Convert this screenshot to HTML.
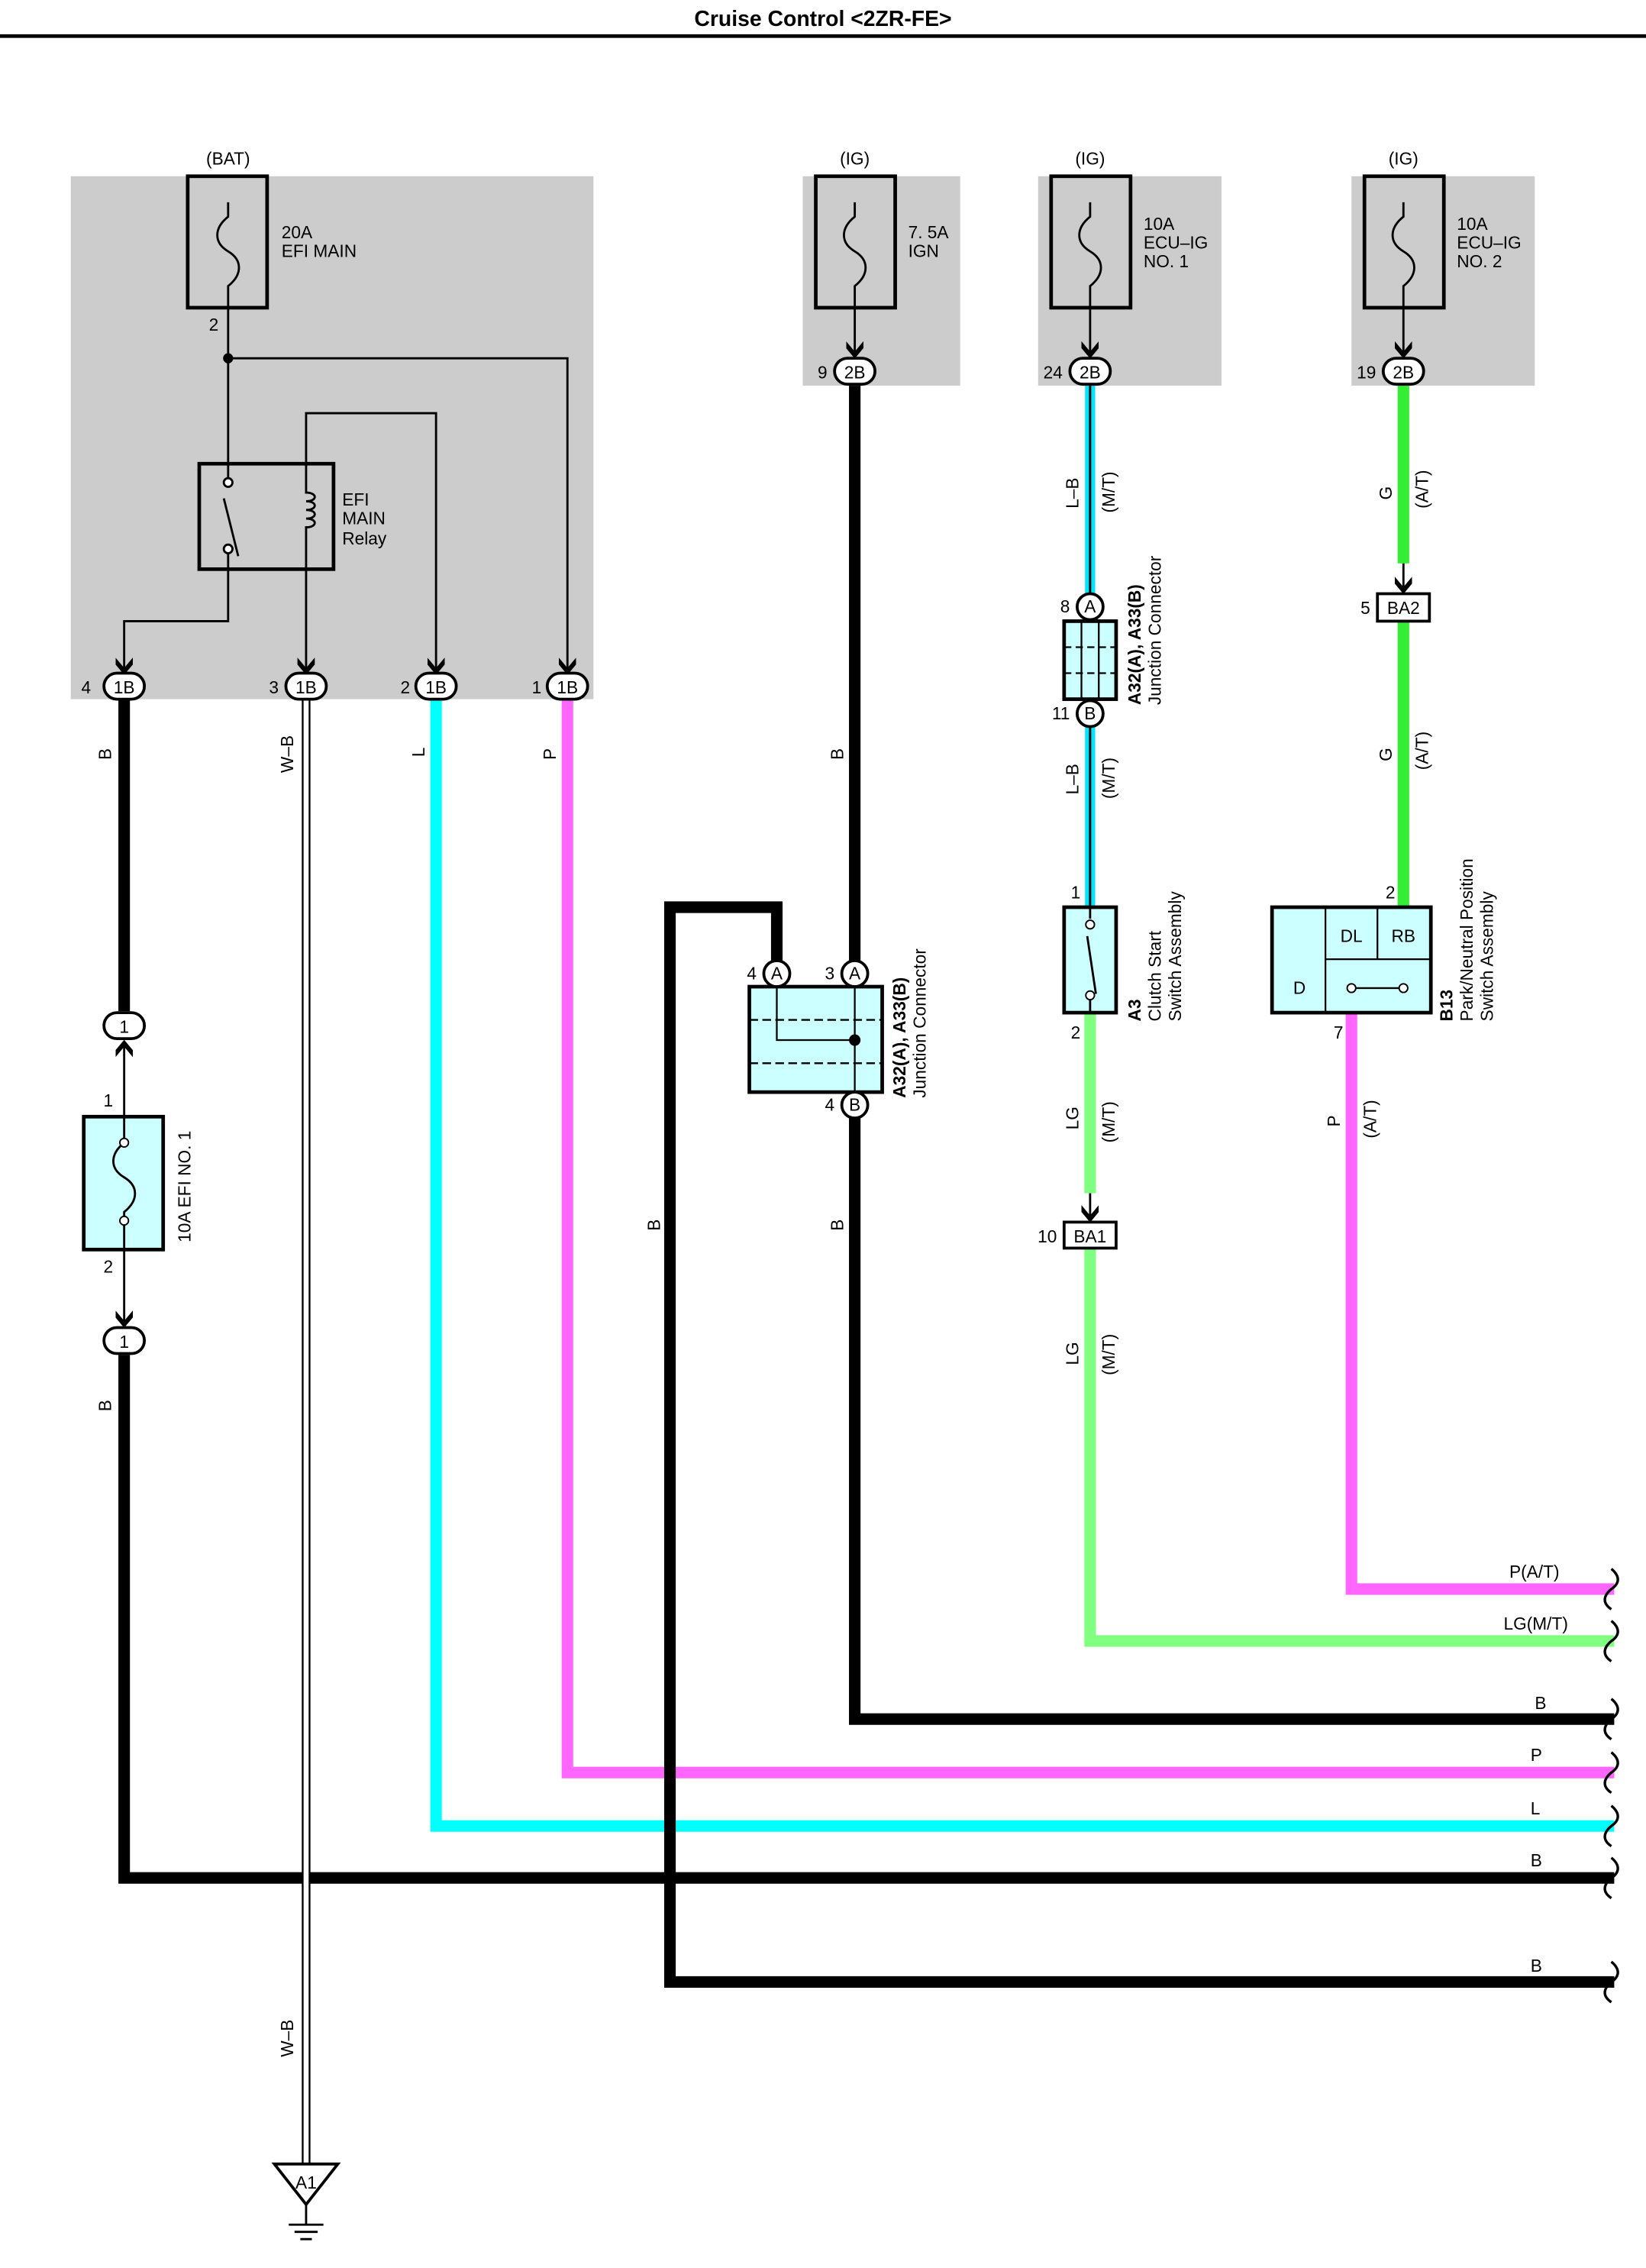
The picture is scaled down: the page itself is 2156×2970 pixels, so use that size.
<!DOCTYPE html>
<html><head><meta charset="utf-8"><style>
html,body{margin:0;padding:0;background:#fff}
svg{display:block}
text{font-family:"Liberation Sans",sans-serif;font-size:12px;fill:#000}
</style></head><body>
<svg width="2156" height="2970" viewBox="0 0 1140 1570" preserveAspectRatio="none" xmlns="http://www.w3.org/2000/svg">
<defs>
<marker id="ar" viewBox="0 0 10 10" refX="9" refY="5" markerUnits="userSpaceOnUse" markerWidth="12" markerHeight="12" orient="auto"><path d="M0,0 L6,5 L0,10 L4,10 L10,5 L4,0Z" fill="#000"/></marker>
</defs>
<text x="570" y="18" text-anchor="middle" style="font-weight:bold;font-size:15px">Cruise Control &lt;2ZR-FE&gt;</text>
<line x1="0" y1="25" x2="1140" y2="25" stroke="#000" stroke-width="2.5"/>

<rect x="49" y="122" width="362" height="362" fill="#cccccc"/>
<rect x="556" y="122" width="109" height="145" fill="#cccccc"/>
<rect x="719" y="122" width="127" height="145" fill="#cccccc"/>
<rect x="936" y="122" width="127" height="145" fill="#cccccc"/>

<text x="158" y="114" text-anchor="middle">(BAT)</text>
<text x="592" y="114" text-anchor="middle">(IG)</text>
<text x="755" y="114" text-anchor="middle">(IG)</text>
<text x="972" y="114" text-anchor="middle">(IG)</text>

<g fill="none" stroke="#000" stroke-width="2.5">
<rect x="130" y="122" width="55" height="91"/>
<rect x="565" y="122" width="55" height="91"/>
<rect x="728" y="122" width="55" height="91"/>
<rect x="945" y="122" width="55" height="91"/>
</g>
<g fill="none" stroke="#000" stroke-width="1.5">
<path d="M158,140 v10 c-10,8 -10,18 0,24 c10,6 10,16 0,24 v15"/>
<path d="M592,140 v10 c-10,8 -10,18 0,24 c10,6 10,16 0,24 v15"/>
<path d="M755,140 v10 c-10,8 -10,18 0,24 c10,6 10,16 0,24 v15"/>
<path d="M972,140 v10 c-10,8 -10,18 0,24 c10,6 10,16 0,24 v15"/>
</g>
<text x="195" y="165">20A</text><text x="195" y="178">EFI MAIN</text>
<text x="629" y="165">7. 5A</text><text x="629" y="178">IGN</text>
<text x="792" y="159">10A</text><text x="792" y="172">ECU–IG</text><text x="792" y="185">NO. 1</text>
<text x="1009" y="159">10A</text><text x="1009" y="172">ECU–IG</text><text x="1009" y="185">NO. 2</text>
<text x="148" y="229" text-anchor="middle">2</text>

<g fill="none" stroke="#000" stroke-width="1.5">
<path d="M158,213 V321"/>
<path d="M158,248 H393 V466" marker-end="url(#ar)"/>
<path d="M158,394 V430 H86 V466" marker-end="url(#ar)"/>
<path d="M212,321 V286 H302 V466" marker-end="url(#ar)"/>
<path d="M212,394 V466" marker-end="url(#ar)"/>
<path d="M592,213 V247" marker-end="url(#ar)"/>
<path d="M755,213 V247" marker-end="url(#ar)"/>
<path d="M972,213 V247" marker-end="url(#ar)"/>
</g>
<circle cx="158" cy="248" r="3.5"/>
<rect x="138" y="321" width="93" height="73" fill="none" stroke="#000" stroke-width="2.5"/>
<g fill="none" stroke="#000" stroke-width="1.5">
<path d="M158,321 v10 M158,394 v-12 M155,345 l10,40"/>
<circle cx="158" cy="334" r="3" fill="#fff"/><circle cx="158" cy="380" r="3" fill="#fff"/>
<path d="M212,321 v20 c8,0 8,6 0,6 c8,0 8,6 0,6 c8,0 8,6 0,6 c8,0 8,6 0,6 v29"/>
</g>
<text x="237" y="350">EFI</text><text x="237" y="363">MAIN</text><text x="237" y="377">Relay</text>

<g fill="none" stroke-linejoin="miter">
<path d="M86,484 V700" stroke="#000" stroke-width="8"/>
<path d="M86,938 V1300 H1118" stroke="#000" stroke-width="8"/>
<path d="M212,484 V1500" stroke="#000" stroke-width="6"/>
<path d="M212,484 V1500" stroke="#fff" stroke-width="3.5"/>
<path d="M302,484 V1264 H1118" stroke="#00ffff" stroke-width="8"/>
<path d="M393,484 V1227 H1118" stroke="#ff66ff" stroke-width="8"/>
<path d="M592,267 V666" stroke="#000" stroke-width="8"/>
<path d="M592,774 V1190 H1118" stroke="#000" stroke-width="8"/>
<path d="M538,666 V628 H464 V1372 H1118" stroke="#000" stroke-width="8"/>
<path d="M755,267 V412 M755,503 V628" stroke="#00e5ff" stroke-width="7"/>
<path d="M755,267 V412 M755,503 V628" stroke="#000" stroke-width="1.5"/>
<path d="M755,701 V826 M755,864 V1136 H1118" stroke="#80ff80" stroke-width="8"/>
<path d="M972,267 V390 M972,430 V628" stroke="#33ee33" stroke-width="8"/>
<path d="M936,701 V1100 H1118" stroke="#ff66ff" stroke-width="8"/>
</g>
<g fill="none" stroke="#000" stroke-width="1.5">
<path d="M755,826 V845" marker-end="url(#ar)"/>
<path d="M972,390 V410" marker-end="url(#ar)"/>
<path d="M86,773 V721" marker-end="url(#ar)"/>
<path d="M86,865 V918" marker-end="url(#ar)"/>
</g>
<g fill="none" stroke="#000" stroke-width="1.8">
<path d="M1116,1086 c6,5 6,10 0,14 c-6,5 -6,10 0,14"/>
<path d="M1116,1122 c6,5 6,10 0,14 c-6,5 -6,10 0,14"/>
<path d="M1116,1176 c6,5 6,10 0,14 c-6,5 -6,10 0,14"/>
<path d="M1116,1213 c6,5 6,10 0,14 c-6,5 -6,10 0,14"/>
<path d="M1116,1250 c6,5 6,10 0,14 c-6,5 -6,10 0,14"/>
<path d="M1116,1286 c6,5 6,10 0,14 c-6,5 -6,10 0,14"/>
<path d="M1116,1358 c6,5 6,10 0,14 c-6,5 -6,10 0,14"/>
</g>
<text x="1080" y="1092" text-anchor="end">P(A/T)</text>
<text x="1086" y="1128" text-anchor="end">LG(M/T)</text>
<text x="1063" y="1183">B</text><text x="1060" y="1219">P</text><text x="1060" y="1256">L</text>
<text x="1060" y="1292">B</text><text x="1060" y="1365">B</text>

<g stroke="#000" stroke-width="2" fill="#fff">
<rect x="72" y="466" width="28" height="18" rx="9"/>
<rect x="198" y="466" width="28" height="18" rx="9"/>
<rect x="288" y="466" width="28" height="18" rx="9"/>
<rect x="379" y="466" width="28" height="18" rx="9"/>
<rect x="578" y="248" width="28" height="18" rx="9"/>
<rect x="741" y="248" width="28" height="18" rx="9"/>
<rect x="958" y="248" width="28" height="18" rx="9"/>
<rect x="72" y="701" width="28" height="18" rx="9"/>
<rect x="72" y="919" width="28" height="18" rx="9"/>
</g>
<g text-anchor="middle">
<text x="86" y="480">1B</text><text x="212" y="480">1B</text><text x="302" y="480">1B</text><text x="393" y="480">1B</text>
<text x="592" y="262">2B</text><text x="755" y="262">2B</text><text x="972" y="262">2B</text>
<text x="86" y="715">1</text><text x="86" y="933">1</text>
</g>
<text x="63" y="480" text-anchor="end">4</text><text x="193" y="480" text-anchor="end">3</text>
<text x="284" y="480" text-anchor="end">2</text><text x="375" y="480" text-anchor="end">1</text>
<text x="573" y="262" text-anchor="end">9</text><text x="736" y="262" text-anchor="end">24</text><text x="953" y="262" text-anchor="end">19</text>

<rect x="58" y="773" width="55" height="92" fill="#ccffff" stroke="#000" stroke-width="2.5"/>
<path d="M86,773 v18 c-10,8 -10,18 0,24 c10,6 10,16 0,24 v26" fill="none" stroke="#000" stroke-width="1.5"/>
<circle cx="86" cy="791" r="3" fill="#fff" stroke="#000"/><circle cx="86" cy="845" r="3" fill="#fff" stroke="#000"/>
<text x="75" y="766" text-anchor="middle">1</text><text x="75" y="881" text-anchor="middle">2</text>
<text transform="translate(132,860) rotate(-90)">10A EFI NO. 1</text>

<rect x="519" y="683" width="92" height="73" fill="#ccffff" stroke="#000" stroke-width="2.5"/>
<g stroke="#000" stroke-width="1.2" fill="none">
<path d="M519,706 H611 M519,736 H611" stroke-dasharray="6,3"/>
<path d="M538,683 V720 H592 V683"/><path d="M592,720 V756"/>
</g>
<circle cx="592" cy="720" r="4"/>
<g stroke="#000" stroke-width="2" fill="#fff">
<circle cx="538" cy="674" r="9"/><circle cx="592" cy="674" r="9"/><circle cx="592" cy="765" r="9"/>
<circle cx="755" cy="420" r="9"/><circle cx="755" cy="494" r="9"/>
</g>
<g text-anchor="middle"><text x="538" y="678">A</text><text x="592" y="678">A</text><text x="592" y="769">B</text>
<text x="755" y="424">A</text><text x="755" y="498">B</text></g>
<text x="524" y="678" text-anchor="end">4</text><text x="578" y="678" text-anchor="end">3</text><text x="578" y="769" text-anchor="end">4</text>
<text x="741" y="424" text-anchor="end">8</text><text x="741" y="498" text-anchor="end">11</text>
<text transform="translate(627,760) rotate(-90)" style="font-weight:bold">A32(A), A33(B)</text>
<text transform="translate(641,760) rotate(-90)">Junction Connector</text>

<rect x="737" y="430" width="36" height="54" fill="#ccffff" stroke="#000" stroke-width="2.5"/>
<path d="M737,448 H773 M737,466 H773" stroke="#000" stroke-width="1.2" stroke-dasharray="5,3"/>
<path d="M749,430 V484 M761,430 V484" stroke="#000" stroke-width="1.2"/>
<text transform="translate(790,488) rotate(-90)" style="font-weight:bold">A32(A), A33(B)</text>
<text transform="translate(804,488) rotate(-90)">Junction Connector</text>

<rect x="737" y="628" width="36" height="73" fill="#ccffff" stroke="#000" stroke-width="2.5"/>
<path d="M755,628 v8 M755,701 v-10 M753,648 l6,40" stroke="#000" stroke-width="1.5" fill="none"/>
<circle cx="755" cy="640" r="3" fill="#fff" stroke="#000"/><circle cx="755" cy="689" r="3" fill="#fff" stroke="#000"/>
<text x="745" y="622" text-anchor="middle">1</text><text x="745" y="719" text-anchor="middle">2</text>
<text transform="translate(790,707) rotate(-90)" style="font-weight:bold">A3</text>
<text transform="translate(804,707) rotate(-90)">Clutch Start</text>
<text transform="translate(818,707) rotate(-90)">Switch Assembly</text>

<rect x="737" y="846" width="36" height="18" fill="#fff" stroke="#000" stroke-width="2"/>
<text x="755" y="860" text-anchor="middle">BA1</text><text x="732" y="860" text-anchor="end">10</text>
<rect x="954" y="411" width="36" height="19" fill="#fff" stroke="#000" stroke-width="2"/>
<text x="972" y="425" text-anchor="middle">BA2</text><text x="949" y="425" text-anchor="end">5</text>

<rect x="881" y="628" width="110" height="73" fill="#ccffff" stroke="#000" stroke-width="2.5"/>
<path d="M918,628 V701 M918,664 H991 M954,628 V664" stroke="#000" stroke-width="1.2" fill="none"/>
<text x="936" y="652" text-anchor="middle">DL</text><text x="972" y="652" text-anchor="middle">RB</text>
<text x="900" y="688" text-anchor="middle">D</text>
<path d="M936,684 H972" stroke="#000" stroke-width="1.2"/>
<circle cx="936" cy="684" r="3" fill="#fff" stroke="#000"/><circle cx="972" cy="684" r="3" fill="#fff" stroke="#000"/>
<text x="963" y="622" text-anchor="middle">2</text><text x="927" y="719" text-anchor="middle">7</text>
<text transform="translate(1006,707) rotate(-90)" style="font-weight:bold">B13</text>
<text transform="translate(1020,707) rotate(-90)">Park/Neutral Position</text>
<text transform="translate(1034,707) rotate(-90)">Switch Assembly</text>

<path d="M190,1498 H234 L212,1526 Z" fill="#fff" stroke="#000" stroke-width="2"/>
<text x="212" y="1515" text-anchor="middle">A1</text>
<path d="M212,1526 V1540 M200,1540 H224 M204,1545 H220 M208,1550 H216" stroke="#000" stroke-width="1.5"/>

<g>
<text transform="translate(77,526) rotate(-90)">B</text>
<text transform="translate(203,535) rotate(-90)">W–B</text>
<text transform="translate(294,524) rotate(-90)">L</text>
<text transform="translate(385,526) rotate(-90)">P</text>
<text transform="translate(584,526) rotate(-90)">B</text>
<text transform="translate(584,852) rotate(-90)">B</text>
<text transform="translate(457,852) rotate(-90)">B</text>
<text transform="translate(77,977) rotate(-90)">B</text>
<text transform="translate(203,1424) rotate(-90)">W–B</text>
<text transform="translate(747,352) rotate(-90)">L–B</text>
<text transform="translate(772,355) rotate(-90)">(M/T)</text>
<text transform="translate(747,550) rotate(-90)">L–B</text>
<text transform="translate(772,553) rotate(-90)">(M/T)</text>
<text transform="translate(747,782) rotate(-90)">LG</text>
<text transform="translate(772,791) rotate(-90)">(M/T)</text>
<text transform="translate(747,945) rotate(-90)">LG</text>
<text transform="translate(772,952) rotate(-90)">(M/T)</text>
<text transform="translate(964,346) rotate(-90)">G</text>
<text transform="translate(989,352) rotate(-90)">(A/T)</text>
<text transform="translate(964,527) rotate(-90)">G</text>
<text transform="translate(989,533) rotate(-90)">(A/T)</text>
<text transform="translate(928,780) rotate(-90)">P</text>
<text transform="translate(953,788) rotate(-90)">(A/T)</text>
</g>
</svg>
</body></html>
